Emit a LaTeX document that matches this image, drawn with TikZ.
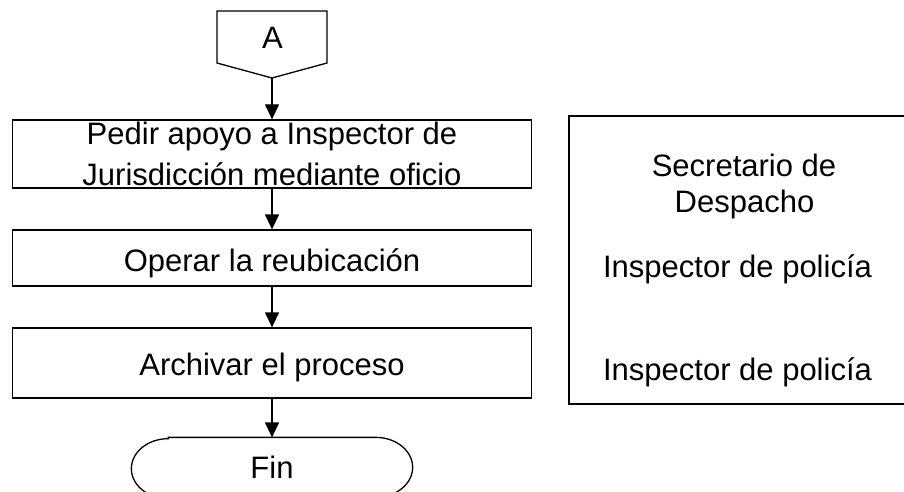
\documentclass[tikz,border=0pt]{standalone}
\usepackage{fontspec}
\setmainfont{Liberation Sans}
\usetikzlibrary{arrows.meta}
\begin{document}
\begin{tikzpicture}[x=1pt,y=-1pt,
  line width=1.3pt,
  txt/.style={font=\fontsize{31}{41}\selectfont, inner sep=0pt},
  proc/.style={txt, draw, minimum width=519pt, align=center},
  flow/.style={-{Triangle[length=15pt,width=14pt]}}
]
\useasboundingbox (0,0) rectangle (904,492);
\clip (0,0) rectangle (904,492);

% off-page connector A
\draw (217,11) -- (327,11) -- (327,63) -- (272,78) -- (217,63) -- cycle;
\coordinate (Atip) at (272,78);
\node[txt, anchor=base] (A) at (272.5,49) {A};

% process boxes
\node[proc, minimum height=68pt] (b1) at (272,154)
  {Pedir apoyo a Inspector de\\Jurisdicción mediante oficio};
\node[proc, minimum height=56pt, text height=26pt, text depth=0pt] (b2) at (272,258)
  {Operar la reubicación};
\node[proc, minimum height=70pt, text height=24pt, text depth=0pt] (b3) at (272,363)
  {Archivar el proceso};

% terminator
\node[txt, minimum width=280pt, minimum height=60pt, text height=20pt, text depth=0pt] (fin) at (272,468) {Fin};
\draw ([xshift=37pt]fin.north west) -- ([xshift=-37pt]fin.north east)
  arc[start angle=90, end angle=-90, x radius=37pt, y radius=30pt]
  -- ([xshift=37pt]fin.south west)
  arc[start angle=270, end angle=90, x radius=37pt, y radius=30pt] -- cycle;

% connectors
\draw[flow] (Atip) -- (b1.north);
\draw[flow] (b1.south) -- (b2.north);
\draw[flow] (b2.south) -- (b3.north);
\draw[flow] (b3.south) -- (fin.north);

% responsibles box
\node[draw, inner sep=0pt, minimum width=343pt, minimum height=288pt] (roles) at (740.5,260) {};
\node[txt, anchor=base] (r1a) at (744,176) {Secretario de};
\node[txt, anchor=base] (r1b) at (744.5,212) {Despacho};
\node[txt, anchor=base] (r2) at (737.5,277) {Inspector de policía};
\node[txt, anchor=base] (r3) at (737.5,380) {Inspector de policía};
\end{tikzpicture}
\end{document}
